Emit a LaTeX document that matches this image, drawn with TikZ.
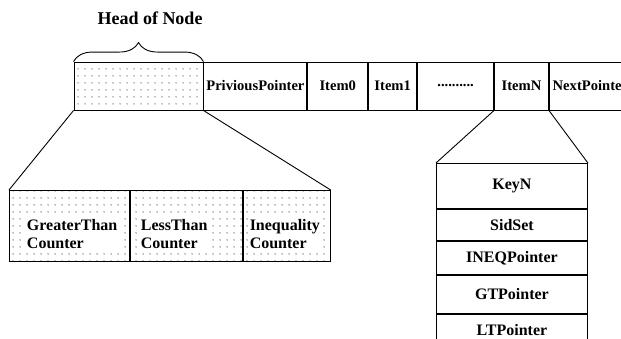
\documentclass[tikz,border=0pt]{standalone}
\usepackage{fontspec}
\setmainfont{Liberation Serif}
\usetikzlibrary{positioning,patterns.meta,decorations.pathreplacing}

\tikzset{
    cell/.style={draw, line width=0.9pt, inner sep=0pt, minimum height=48pt,
                 font=\fontsize{14.6}{16}\selectfont\bfseries},
    dotted box/.style={draw, line width=0.9pt, inner sep=0pt,
                 pattern={Dots[distance=6.5pt, radius=0.6pt]}, pattern color=black},
    field/.style={draw, line width=0.9pt, inner sep=0pt, minimum width=151pt,
                 font=\fontsize{16}{18}\selectfont\bfseries},
    counter text/.style={fill=white, inner sep=1.5pt, align=left, anchor=west,
                 font=\fontsize{16}{18}\selectfont\bfseries},
}

\begin{document}
\begin{tikzpicture}[x=1pt, y=-1pt, line width=0.9pt]
    \useasboundingbox (0,0) rectangle (621,338);

    % head of the node
    \node[dotted box, minimum width=129pt, minimum height=48pt] (head) at (138.5,86) {};
    \node[font=\fontsize{18}{20}\selectfont\bfseries] (title) at (150,18) {Head of Node};
    \draw[decorate, decoration={brace, amplitude=19pt}] (head.north west) -- (head.north east);

    % the rest of the node
    \node[cell, minimum width=103pt, right=0pt of head] (prev) {PriviousPointer};
    \node[cell, minimum width=60pt, right=0pt of prev] (item0) {Item0};
    \node[cell, minimum width=48pt, right=0pt of item0] (item1) {Item1};
    \node[cell, minimum width=76pt, right=0pt of item1] (dots) {..........};
    \node[cell, minimum width=54pt, right=0pt of dots] (itemN) {ItemN};
    \node[cell, minimum width=82pt, right=0pt of itemN] (next) {NextPointer};

    % counters in the head
    \node[dotted box, minimum width=120pt, minimum height=71pt, anchor=north west] (gt) at (9,190) {};
    \node[dotted box, minimum width=112pt, minimum height=71pt, right=0pt of gt] (lt) {};
    \node[dotted box, minimum width=87pt, minimum height=71pt, right=0pt of lt] (ineq) {};
    \node[counter text] (gtText) at ([xshift=16pt, yshift=-8pt]gt.west) {GreaterThan\\Counter};
    \node[counter text] (ltText) at ([xshift=9pt, yshift=-8pt]lt.west) {LessThan\\Counter};
    \node[counter text] (ineqText) at ([xshift=5pt, yshift=-8pt]ineq.west) {Inequality\\Counter};
    \draw (head.south west) -- (gt.north west);
    \draw (head.south east) -- (ineq.north east);

    % fields of ItemN
    \node[field, minimum height=45pt, anchor=north west] (key) at (436,163) {KeyN};
    \node[field, minimum height=31pt, below=0pt of key] (sid) {SidSet};
    \node[field, minimum height=33pt, below=0pt of sid] (ineqp) {INEQPointer};
    \node[field, minimum height=38pt, below=0pt of ineqp] (gtp) {GTPointer};
    \node[field, minimum height=32pt, below=0pt of gtp] (ltp) {LTPointer};
    \draw (itemN.south west) -- (key.north west);
    \draw (itemN.south east) -- (key.north east);
\end{tikzpicture}
\end{document}
